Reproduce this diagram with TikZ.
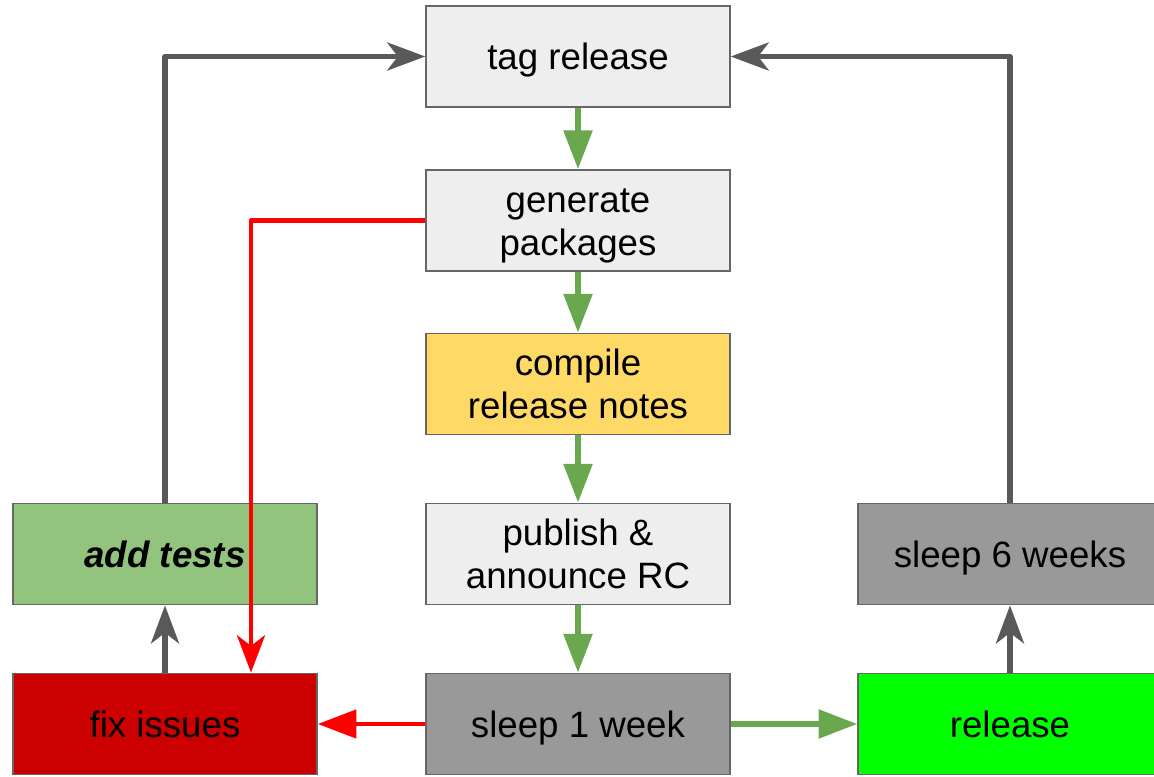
\documentclass[tikz,border=0pt]{standalone}
\usepackage{fontspec}
\setmainfont{Liberation Sans}
\usetikzlibrary{arrows.meta}

\definecolor{boxlight}{HTML}{EEEEEE}
\definecolor{boxgray}{HTML}{999999}
\definecolor{boxborder}{HTML}{666666}
\definecolor{noteyellow}{HTML}{FFD966}
\definecolor{testgreen}{HTML}{93C47D}
\definecolor{fixred}{HTML}{CC0000}
\definecolor{relgreen}{HTML}{00FF00}
\definecolor{flowgreen}{HTML}{6AA84F}
\definecolor{loopgray}{HTML}{595959}
\definecolor{failred}{HTML}{FF0000}

% stage label, with extra room on top so it sits a little low in its box
\newcommand\stagetext[1]{\raisebox{0pt}[\dimexpr\height+7pt\relax][\depth]{\begin{tabular}{@{}c@{}}#1\end{tabular}}}

\tikzset{
  stagebox/.style={draw=boxborder, line width=1.1pt, fill=boxlight,
    minimum width=228pt, minimum height=76pt, inner sep=0pt,
    font=\fontsize{27.5}{32}\selectfont, text=black},
  flow/.style={draw=flowgreen, line width=4.2pt,
    -{Triangle[length=29pt,width=21pt]}},
  loop/.style={draw=loopgray, line width=4.2pt, line join=round,
    -{Stealth[length=28.5pt,width=21pt,inset=8pt]}},
  failloop/.style={draw=failred, line width=3.6pt, line join=round,
    -{Stealth[length=28pt,width=21pt,inset=8pt]}},
  failflow/.style={draw=failred, line width=3.6pt,
    -{Triangle[length=29pt,width=21pt]}},
}

\begin{document}
\begin{tikzpicture}[x=0.75pt,y=-0.75pt]
\useasboundingbox (0,0) rectangle (1154,777);

% release pipeline, top to bottom
\node[stagebox] (tag) at (578,56.5) {\stagetext{tag release}};
\node[stagebox] (gen) at (578,220.5) {\stagetext{generate\\packages}};
\node[stagebox, fill=noteyellow] (notes) at (578,384) {\stagetext{compile\\release notes}};
\node[stagebox] (rc) at (578,554) {\stagetext{publish \&\\announce RC}};
\node[stagebox, fill=boxgray] (sleep1) at (578,724) {\stagetext{sleep 1 week}};

% side branches
\node[stagebox, fill=testgreen] (tests) at (165,554) {\stagetext{\textbf{\textit{add tests}}}};
\node[stagebox, fill=fixred] (fix) at (165,724) {\stagetext{fix issues}};
\node[stagebox, fill=boxgray] (sleep6) at (1010,554) {\stagetext{sleep 6 weeks}};
\node[stagebox, fill=relgreen] (rel) at (1010,724) {\stagetext{release}};

% main flow
\draw[flow] (tag) -- (gen);
\draw[flow] (gen) -- (notes);
\draw[flow] (notes) -- (rc);
\draw[flow] (rc) -- (sleep1);
\draw[flow] (sleep1) -- (rel);

% failure path
\coordinate (failturn) at (251,220.5);
\draw[failflow] (sleep1) -- (fix);
\draw[failloop] (gen.west) -- (failturn) -- (failturn |- fix.north);

% loops back to tagging
\draw[loop] (fix) -- (tests);
\draw[loop] (tests.north) |- (tag.west);
\draw[loop] (rel) -- (sleep6);
\draw[loop] (sleep6.north) |- (tag.east);
\end{tikzpicture}
\end{document}
